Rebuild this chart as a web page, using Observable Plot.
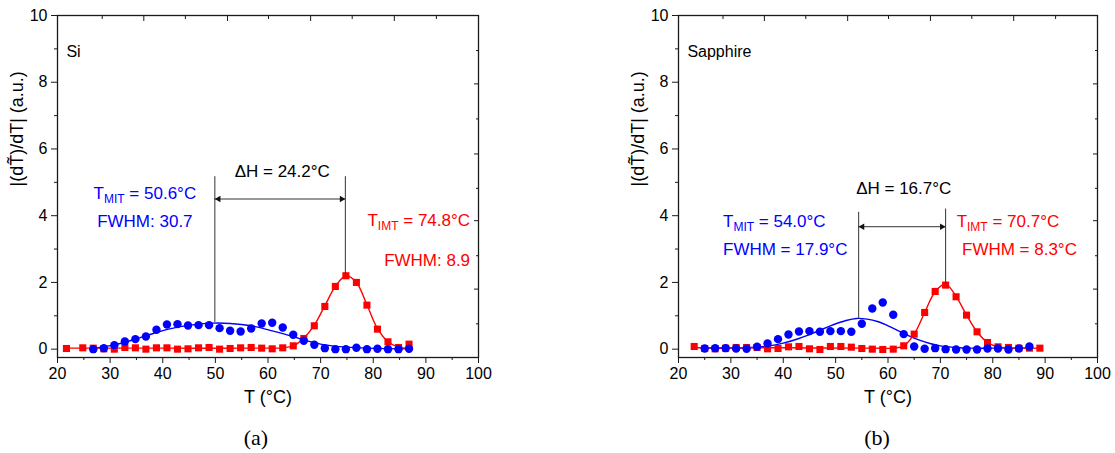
<!DOCTYPE html>
<html><head><meta charset="utf-8">
<script src="https://cdn.jsdelivr.net/npm/d3@7"></script>
<script src="https://cdn.jsdelivr.net/npm/@observablehq/plot@0.6"></script>
<style>
body{margin:0;background:#fff;}
#wrap{position:relative;width:1115px;height:453px;overflow:hidden;background:#fff;font-family:"Liberation Sans",Arial,sans-serif;}
.panel{position:absolute;top:0;}
.cap{position:absolute;top:424px;width:100px;text-align:center;font-family:"Liberation Serif","Times New Roman",serif;font-size:22px;line-height:28px;color:#000;}
</style></head><body>
<div id="wrap">
  <div id="pa" class="panel" style="left:0px"></div>
  <div id="pb" class="panel" style="left:557px"></div>
  <div class="cap" style="left:206px">(a)</div>
  <div class="cap" style="left:827px">(b)</div>
</div>
<script>
// ---------- Panel (a): Si ----------
const aRedX = [21.7,24.8,26.8,28.8,30.8,32.8,34.8,36.8,38.8,40.8,42.8,44.8,46.8,48.8,50.8,52.8,54.8,56.8,58.8,60.8,62.8,64.8,66.8,68.8,70.8,72.8,74.8,76.8,78.8,80.8,82.8,84.8,86.8];
const aRedY = [0.02,0.04,0.03,0.01,0.0,0.05,0.04,0.0,0.04,0.04,0.0,0.01,0.04,0.05,0.0,0.02,0.04,0.05,0.03,0.01,0.04,0.1,0.32,0.7,1.28,1.88,2.2,2.0,1.32,0.6,0.22,0.05,0.15];
const aBlueX = [26.8,28.8,30.8,32.8,34.8,36.8,38.8,40.8,42.8,44.8,46.8,48.8,50.8,52.8,54.8,56.8,58.8,60.8,62.8,64.8,66.8,68.8,70.8,72.8,74.8,76.8,78.8,80.8,82.8,84.8,86.8];
const aBlueY = [0.0,0.03,0.12,0.23,0.3,0.38,0.58,0.74,0.75,0.71,0.72,0.72,0.63,0.55,0.53,0.62,0.77,0.79,0.65,0.43,0.25,0.13,0.03,0.0,0.0,0.04,0.0,0.01,0.0,0.0,0.01];
const aBlueFitX = [26.8,30.8,34.8,38.8,42.8,46.8,49.5,52.8,56.8,60.8,64.8,66.8,70.8,74.8,78.8,86.8];
const aBlueFitY = [0.03,0.13,0.3,0.5,0.66,0.75,0.78,0.77,0.7,0.55,0.38,0.28,0.13,0.06,0.03,0.01];
const aRedFitX = [21.7,40,60,62.8,64.8,66.8,68.8,70.8,72.8,74.8,76.8,78.8,80.8,82.8,84.8,86.8];
const aRedFitY = [0.03,0.03,0.03,0.04,0.1,0.33,0.72,1.3,1.88,2.2,2.0,1.33,0.62,0.22,0.06,0.03];
const aVLineX = [49.9, 74.7];
const aVLineTop = [5.17, 5.17];
const aVLineBottom = [0.8, 2.25];
const aArrowY = 4.5;
const aSample = "Si";
const aTexts = [
  {x: 36.6, y: 4.67, t: "T_{MIT} = 50.6°C", c: "blue", a: "middle"},
  {x: 36.6, y: 3.83, t: "FWHM: 30.7", c: "blue", a: "middle"},
  {x: 62.7, y: 5.33, t: "ΔH = 24.2°C", c: "black", a: "middle"},
  {x: 98.4, y: 3.85, t: "T_{IMT} = 74.8°C", c: "red", a: "end"},
  {x: 98.4, y: 2.67, t: "FWHM: 8.9", c: "red", a: "end"}
];

// ---------- Panel (b): Sapphire ----------
const bRedX = [23,25,27,29,31,33,35,37,39,41,43,45,47,49,51,53,55,57,59,61,63,65,67,69,71,73,75,77,79,81,83,85,87,89];
const bRedY = [0.08,0.02,0.01,0.03,0.05,0.05,0.05,0.01,0.02,0.07,0.08,0.01,-0.01,0.08,0.08,0.06,0.02,0.0,-0.01,0.0,0.1,0.45,1.1,1.73,1.92,1.57,1.02,0.52,0.2,0.07,0.05,0.03,0.03,0.03];
const bBlueX = [25,27,29,31,33,35,37,39,41,43,45,47,49,51,53,55,57,59,61,63,65,67,69,71,73,75,77,79,81,83,85,87];
const bBlueY = [0.02,0.03,0.03,0.02,0.01,0.07,0.17,0.3,0.44,0.53,0.54,0.52,0.54,0.54,0.52,0.76,1.22,1.4,1.03,0.45,0.08,0.01,0.03,0.0,-0.01,-0.01,-0.01,0.02,0.02,-0.01,0.02,0.08];
const bBlueFitX = [25,30,34,37,40,43,46,49,52,54,56,58,60,62,64,66,68,70,73,76,80,87];
const bBlueFitY = [0.03,0.03,0.05,0.09,0.18,0.32,0.5,0.7,0.86,0.92,0.9,0.83,0.7,0.55,0.4,0.27,0.17,0.1,0.05,0.03,0.03,0.03];
const bRedFitX = [23,40,57,61,63,65,67,69,71,73,75,77,79,81,83,85,89];
const bRedFitY = [0.04,0.04,0.03,0.03,0.1,0.45,1.1,1.72,1.95,1.58,1.02,0.52,0.2,0.07,0.04,0.03,0.03];
const bVLineX = [54.4, 71.0];
const bVLineTop = [4.1, 4.2];
const bVLineBottom = [0.9, 1.95];
const bArrowY = 3.67;
const bSample = "Sapphire";
const bTexts = [
  {x: 28.5, y: 3.82, t: "T_{MIT} = 54.0°C", c: "blue", a: "start"},
  {x: 28.5, y: 3.0, t: "FWHM = 17.9°C", c: "blue", a: "start"},
  {x: 63.0, y: 4.8, t: "ΔH = 16.7°C", c: "black", a: "middle"},
  {x: 82.9, y: 3.82, t: "T_{IMT} = 70.7°C", c: "red", a: "middle"},
  {x: 85.1, y: 3.0, t: "FWHM = 8.3°C", c: "red", a: "middle"}
];

// ---------- shared axes ----------
const xMajor = [20,30,40,50,60,70,80,90,100];
const xMinor = [25,35,45,55,65,75,85,95];
const yMajor = [0,2,4,6,8,10];
const yMinor = [1,3,5,7,9];
const topMajor = [36.4,52.3,68.1,84.0];
const topMinor = [28.5,44.3,60.1,76.0,92.0];
const rightMajor = [1.8,3.85,5.85,7.95];
const rightMinor = [0.76,2.8,4.82,6.9,8.95];
const xTitle = "T (°C)";
const yTitle = "|(dT\u0303)/dT| (a.u.)";

const BLUE = "#0000ff", RED = "#ff0000", INK = "#1a1a1a";

function zip(xs, ys) { return xs.map((x, i) => ({x, y: ys[i]})); }

function fixSubscripts(svg) {
  const ns = "http://www.w3.org/2000/svg";
  svg.querySelectorAll("text").forEach(t => {
    const s = t.textContent;
    const m = s.match(/^(.*?)_\{(.*?)\}(.*)$/);
    if (!m) return;
    t.textContent = "";
    const a = document.createElementNS(ns, "tspan"); a.textContent = m[1];
    const b = document.createElementNS(ns, "tspan"); b.textContent = m[2];
    b.setAttribute("font-size", "12"); b.setAttribute("dy", "4");
    const c = document.createElementNS(ns, "tspan"); c.textContent = m[3]; c.setAttribute("dy", "-4");
    t.append(a, b, c);
  });
}

function panel(o) {
  const vlines = o.vx.map((x, i) => ({x, y1: o.vb[i], y2: o.vt[i]}));
  const arrow = [{x1: o.vx[0], x2: o.vx[1], y: o.ay}];
  const svg = Plot.plot({
    width: o.width, height: 420,
    marginLeft: o.ml, marginRight: o.mr, marginTop: 15, marginBottom: 63,
    style: {fontFamily: "'Liberation Sans', Arial, sans-serif", fontSize: "16px", color: "#000", background: "#fff", overflow: "visible"},
    x: {domain: [20, 100]},
    y: {domain: [-0.25, 10]},
    marks: [
      Plot.axisY(yMajor, {tickSize: 6, tickPadding: 4, label: null, stroke: INK}),
      Plot.axisY(yMinor, {tickSize: 3, tickFormat: () => "", label: null, stroke: INK}),
      Plot.axisX(xMajor, {tickSize: 6, tickPadding: 4, label: null, stroke: INK}),
      Plot.axisX(xMinor, {tickSize: 3, tickFormat: () => "", label: null, stroke: INK}),
      Plot.axisY(rightMajor, {anchor: "right", tickSize: -5, tickFormat: () => "", label: null, stroke: INK}),
      Plot.axisY(rightMinor, {anchor: "right", tickSize: -3, tickFormat: () => "", label: null, stroke: INK}),
      Plot.axisX(topMajor, {anchor: "top", tickSize: -5, tickFormat: () => "", label: null, stroke: INK}),
      Plot.axisX(topMinor, {anchor: "top", tickSize: -3, tickFormat: () => "", label: null, stroke: INK}),
      Plot.frame({stroke: INK, strokeWidth: 1.3}),
      Plot.line(zip(o.bfx, o.bfy), {x: "x", y: "y", stroke: BLUE, strokeWidth: 1.4, curve: "catmull-rom"}),
      Plot.line(zip(o.rfx, o.rfy), {x: "x", y: "y", stroke: RED, strokeWidth: 1.4, curve: "catmull-rom"}),
      Plot.dot(zip(o.rx, o.ry), {x: "x", y: "y", symbol: "square", r: 4.0, fill: RED, stroke: null}),
      Plot.dot(zip(o.bx, o.by), {x: "x", y: "y", symbol: "circle", r: 4.2, fill: BLUE, stroke: null}),
      Plot.ruleX(vlines, {x: "x", y1: "y1", y2: "y2", stroke: "#333", strokeWidth: 1}),
      Plot.ruleY(arrow, {y: "y", x1: "x1", x2: "x2", stroke: "#333", strokeWidth: 1}),
      Plot.dot(arrow, {x: "x1", y: "y", symbol: "triangle", r: 2.4, rotate: -90, dx: 3.7, fill: "#111", stroke: null}),
      Plot.dot(arrow, {x: "x2", y: "y", symbol: "triangle", r: 2.4, rotate: 90, dx: -3.7, fill: "#111", stroke: null}),
      Plot.text([o.sample], {x: 21.7, y: 8.9, text: d => d, textAnchor: "start", fontSize: 16, fill: "#000"}),
      Plot.text(o.texts, {x: "x", y: "y", text: "t", fill: d => d.c === "blue" ? BLUE : d.c === "red" ? RED : "#000", textAnchor: "middle", fontSize: 17, filter: d => d.a === "middle"}),
      Plot.text(o.texts, {x: "x", y: "y", text: "t", fill: d => d.c === "blue" ? BLUE : d.c === "red" ? RED : "#000", textAnchor: "start", fontSize: 17, filter: d => d.a === "start"}),
      Plot.text(o.texts, {x: "x", y: "y", text: "t", fill: d => d.c === "blue" ? BLUE : d.c === "red" ? RED : "#000", textAnchor: "end", fontSize: 17, filter: d => d.a === "end"}),
      Plot.text([xTitle], {text: d => d, frameAnchor: "bottom", dy: 45, fontSize: 18, fill: "#000"}),
      Plot.text([yTitle], {text: d => d, frameAnchor: "left", dx: -40, rotate: -90, fontSize: 18, fill: "#000"})
    ]
  });
  fixSubscripts(svg);
  return svg;
}

document.getElementById("pa").append(panel({
  width: 557, ml: 57, mr: 79,
  rx: aRedX, ry: aRedY, bx: aBlueX, by: aBlueY,
  bfx: aBlueFitX, bfy: aBlueFitY, rfx: aRedFitX, rfy: aRedFitY,
  vx: aVLineX, vt: aVLineTop, vb: aVLineBottom, ay: aArrowY,
  sample: aSample, texts: aTexts
}));
document.getElementById("pb").append(panel({
  width: 558, ml: 121, mr: 18,
  rx: bRedX, ry: bRedY, bx: bBlueX, by: bBlueY,
  bfx: bBlueFitX, bfy: bBlueFitY, rfx: bRedFitX, rfy: bRedFitY,
  vx: bVLineX, vt: bVLineTop, vb: bVLineBottom, ay: bArrowY,
  sample: bSample, texts: bTexts
}));
</script>
</body></html>
